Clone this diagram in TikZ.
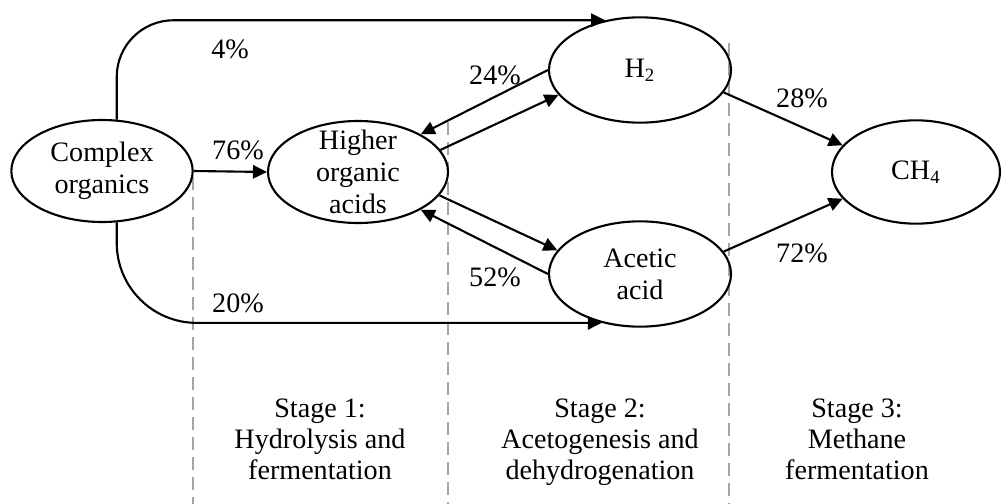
\documentclass[tikz,border=0pt]{standalone}
\usepackage{fontspec}
\setmainfont{Liberation Serif}
\usetikzlibrary{arrows.meta,positioning,shapes.geometric}
\definecolor{cstage}{RGB}{165,165,165}
\tikzset{
  proc/.style={ellipse,draw,line width=0.9pt,inner sep=0pt,align=center,
    minimum width=2.72cm,minimum height=1.53cm,
    font=\fontsize{12}{13.6}\selectfont},
  proctxt/.style={align=center,inner sep=0pt,font=\fontsize{12}{13.6}\selectfont},
  pct/.style={inner sep=1pt,font=\fontsize{12}{13.6}\selectfont},
  stagelbl/.style={align=center,inner sep=0pt,anchor=north,font=\fontsize{12}{13.4}\selectfont},
  % gray dashed boundaries between the stages
  stagesep/.style={draw=cstage,line width=0.85pt,dash pattern=on 1.9mm off 1.1mm},
  flow/.style={->,line width=0.9pt}
}
\begin{document}
\begin{tikzpicture}[x=0.015cm,y=-0.015cm,>={Triangle[length=2.1mm,width=2mm]}]
  \useasboundingbox (0,0) rectangle (1002,504);
  \foreach \sx/\sy in {193/177,448/122,729/43}
    \draw[stagesep] (\sx,\sy) -- (\sx,504);
  % substances
  \node[proc] (co) at (102,171) {Complex\\organics};
  \node[proc,minimum width=2.7cm] (hoa) at (358,172) {};
  \node[proctxt] (hoatxt) at (hoa.center) {Higher\\organic\\acids};
  \node[proc,minimum width=2.73cm,minimum height=1.58cm] (h2) at (640,70) {H\textsubscript{2}};
  \node[proc,minimum width=2.73cm,minimum height=1.58cm] (aa) at (640,274) {Acetic\\acid};
  \node[proc,minimum width=2.52cm,minimum height=1.55cm] (ch4) at (916,172) {CH\textsubscript{4}};
  % flows
  \draw[flow,rounded corners=0.85cm] (co.74) |- (h2.125);
  \draw[flow,rounded corners=1.2cm] (co.-74) |- (aa.-128);
  \draw[flow] (co.east) -- (hoa.west);
  \draw[flow] (h2.west) -- (hoa.31);
  \draw[flow] (hoa.15) -- (h2.197);
  \draw[flow] (hoa.-16) -- (aa.164);
  \draw[flow] (aa.west) -- (hoa.-31);
  \draw[flow] (h2.-15) -- (ch4.160);
  \draw[flow] (aa.15) -- (ch4.-160);
  % shares
  \node[pct] (p4) at (230,49) {4\%};
  \node[pct] (p76) at (238,150) {76\%};
  \node[pct] (p20) at (238,303) {20\%};
  \node[pct] (p24) at (495,75) {24\%};
  \node[pct] (p52) at (495,277) {52\%};
  \node[pct] (p28) at (802,98) {28\%};
  \node[pct] (p72) at (802,253) {72\%};
  % stages
  \node[stagelbl] (st1) at (320,398) {Stage 1:\\Hydrolysis and\\fermentation};
  \node[stagelbl] (st2) at (600,398) {Stage 2:\\Acetogenesis and\\dehydrogenation};
  \node[stagelbl] (st3) at (857,398) {Stage 3:\\Methane\\fermentation};
\end{tikzpicture}
\end{document}
